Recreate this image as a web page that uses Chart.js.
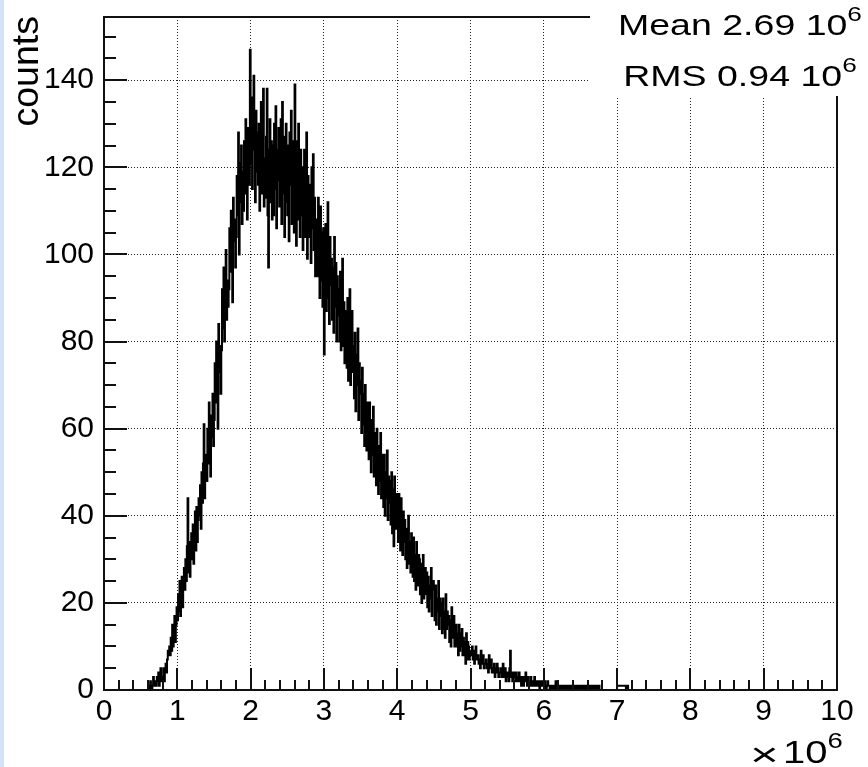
<!DOCTYPE html>
<html><head><meta charset="utf-8">
<script src="https://cdn.jsdelivr.net/npm/chart.js@4.4.1/dist/chart.umd.min.js"></script>
<style>
html,body{margin:0;padding:0;background:#fff;}
#wrap{position:relative;width:868px;height:767px;}
canvas{display:block;}
</style>
</head><body>
<div id="wrap"><canvas id="c" width="868" height="767"></canvas></div>
<script>
// ---- data (x in units of 10^6), one row per 0.1 interval, bin width 0.01 ----
const binStart = 0.60;
const binWidth = 0.01;
const counts = [
  0,1,0,2,1,0,1,3,1,2,            // 0.6
  2,1,3,2,4,1,2,5,3,2,            // 0.7
  3,5,2,4,6,4,7,9,8,10,           // 0.8
  8,12,9,15,10,13,17,11,15,19,    // 0.9
  16,22,18,25,17,23,26,19,25,28,  // 1.0
  23,30,25,33,44,27,34,26,31,36,  // 1.1
  30,38,29,37,41,32,42,34,39,44,  // 1.2
  40,47,37,50,43,52,61,44,54,48,  // 1.3
  48,60,52,66,55,49,63,58,68,56,  // 1.4
  62,75,66,80,70,60,84,73,79,68,  // 1.5
  78,92,83,97,80,89,101,85,94,88, // 1.6
  92,106,96,110,99,89,113,103,108,97,      // 1.7
  104,118,109,128,100,121,112,125,107,119, // 1.8
  110,126,114,131,118,108,129,121,116,147, // 1.9
  121,136,115,130,141,124,112,133,119,128, // 2.0
  116,130,110,127,135,114,125,138,111,122, // 2.1
  113,127,138,109,97,124,131,112,126,108,  // 2.2
  125,109,130,115,134,106,124,117,129,111, // 2.3
  118,131,107,135,114,127,104,122,130,112, // 2.4
  109,125,103,128,116,133,107,121,126,105, // 2.5
  139,110,102,126,108,130,115,104,124,109, // 2.6
  120,101,117,124,104,112,128,99,118,107,  // 2.7
  104,116,98,120,106,123,101,113,95,108,   // 2.8
  108,95,113,99,90,111,94,105,88,106,      // 2.9
  77,100,107,87,103,112,90,84,104,93,      // 3.0
  99,85,97,82,104,88,98,80,95,86,          // 3.1
  92,80,96,78,90,99,79,89,75,87,           // 3.2
  86,74,90,71,83,92,70,81,87,73,           // 3.3
  79,67,82,64,77,70,83,62,75,68,           // 3.4
  71,59,74,61,68,56,70,60,55,66,           // 3.5
  64,53,66,55,50,62,54,65,49,59,           // 3.6
  58,47,60,49,45,56,48,59,44,54,           // 3.7
  52,42,54,40,50,44,55,39,49,43,           // 3.8
  48,38,50,36,46,33,49,40,37,45,           // 3.9
  43,34,45,36,32,44,35,31,41,34,           // 4.0
  39,30,37,28,35,40,29,34,27,36,           // 4.1
  34,26,35,25,31,23,34,27,24,31,           // 4.2
  30,22,29,20,27,31,21,25,28,22,           // 4.3
  27,19,26,18,24,21,28,17,23,25,           // 4.4
  23,16,24,15,21,18,25,14,21,17,           // 4.5
  20,13,21,14,18,12,22,14,18,15,           // 4.6
  17,11,16,10,19,13,12,17,10,14,           // 4.7
  15,10,13,8,15,9,13,10,14,8,              // 4.8
  12,8,11,6,13,7,11,10,7,9,                // 4.9
  9,8,10,7,9,6,8,10,7,8,                   // 5.0
  8,6,7,5,9,6,7,8,5,6,                     // 5.1
  6,7,5,6,4,8,5,6,7,4,                     // 5.2
  5,4,6,3,5,4,6,5,3,4,                     // 5.3
  4,5,3,4,6,3,4,5,2,4,                     // 5.4
  3,4,2,5,9,3,4,2,3,4,                     // 5.5
  3,2,4,3,2,3,4,2,3,1,                     // 5.6
  2,3,1,3,2,4,2,1,3,2,                     // 5.7
  2,1,3,2,1,2,1,3,1,2,                     // 5.8
  1,2,1,2,0,1,2,1,1,2,                     // 5.9
  1,2,1,0,1,2,1,1,0,1,                     // 6.0
  1,0,1,1,0,1,2,0,1,1,                     // 6.1
  0,1,1,0,1,0,1,0,0,1,                     // 6.2
  1,0,1,0,1,1,0,1,0,0,                     // 6.3
  0,1,0,1,1,0,0,1,0,1,                     // 6.4
  1,0,0,1,0,1,0,0,1,0,                     // 6.5
  0,1,0,0,1,0,1,0,0,1,                     // 6.6
  0,0,1,0,0,1,0,0,0,0,                     // 6.7
  0,0,0,0,0,0,0,0,0,0,                     // 6.8
  0,0,0,0,0,0,0,0,0,0,                     // 6.9
  1,1,1,1,1,1,1,1,1,1,                     // 7.0
  1,1,0,1,1                                // 7.1
];
const xTickValues = [0,1,2,3,4,5,6,7,8,9,10];
const yTickValues = [0,20,40,60,80,100,120,140];
const xMinorStep = 0.2;
const yMinorStep = 5;
const yAxisTitle = "counts";
const xMultiplier = ["\u00d7", "10", "6"];
const statsLines = ["Mean 2.69 10", "RMS 0.94 10"];
const statsExponent = "6";

// ---- build stepped histogram points from bins ----
const points = [{x: 0, y: 0}];
counts.forEach((c, i) => points.push({x: binStart + i * binWidth, y: c}));
points.push({x: binStart + counts.length * binWidth, y: 0});
points.push({x: 10, y: 0});

const FONT = "'Liberation Sans', Arial, Helvetica, sans-serif";
const STRETCH = 1.25; // stats and multiplier text are horizontally widened in the original

function stretchedText(ctx, str, size, x, y, sx) {
  ctx.save();
  ctx.font = size + 'px ' + FONT;
  ctx.translate(x, y);
  ctx.scale(sx || STRETCH, 1);
  ctx.textAlign = 'left';
  ctx.textBaseline = 'alphabetic';
  ctx.fillText(str, 0, 0);
  ctx.restore();
}
function widthOf(ctx, str, size) {
  ctx.save(); ctx.font = size + 'px ' + FONT;
  const w = ctx.measureText(str).width * STRETCH;
  ctx.restore(); return w;
}

const decor = {
  id: 'decor',
  beforeDraw(chart) {
    const ctx = chart.ctx;
    ctx.save();
    ctx.fillStyle = '#fff';
    ctx.fillRect(0, 0, chart.width, chart.height);
    ctx.fillStyle = '#d3e3f5';
    ctx.fillRect(0, 0, 4, chart.height);
    ctx.restore();
  },
  afterDraw(chart) {
    const {ctx, chartArea: a, scales: {x, y}} = chart;
    ctx.save();
    ctx.strokeStyle = '#111';
    ctx.lineWidth = 2;
    ctx.beginPath();
    // y ticks (inside)
    for (let k = 0; k * yMinorStep <= y.max; k++) {
      const v = k * yMinorStep;
      const py = Math.round(y.getPixelForValue(v));
      const len = yTickValues.includes(v) ? 23 : 12;
      ctx.moveTo(a.left, py); ctx.lineTo(a.left + len, py);
    }
    // x ticks (inside)
    for (let k = 0; k * xMinorStep <= x.max + 1e-9; k++) {
      const v = Math.round(k * xMinorStep * 10) / 10;
      const px = Math.round(x.getPixelForValue(v));
      const len = xTickValues.includes(v) ? 22 : 10;
      ctx.moveTo(px, a.bottom); ctx.lineTo(px, a.bottom - len);
    }
    ctx.stroke();
    // frame
    ctx.beginPath();
    const L = Math.round(a.left), R = Math.round(a.right);
    const T = Math.round(a.top), B = Math.round(a.bottom);
    ctx.moveTo(L, T); ctx.lineTo(R, T); ctx.lineTo(R, B); ctx.lineTo(L, B); ctx.closePath();
    ctx.stroke();

    ctx.fillStyle = '#000';
    // y axis title (rotated, aligned to top of frame)
    ctx.save();
    ctx.translate(38, a.top - 1);
    ctx.rotate(-Math.PI / 2);
    ctx.font = '37.5px ' + FONT;
    ctx.textAlign = 'right';
    ctx.textBaseline = 'alphabetic';
    ctx.fillText(yAxisTitle, 0, 0);
    ctx.restore();

    // stats box (no border, covers frame corner)
    ctx.fillStyle = '#fff';
    ctx.fillRect(590, 0, chart.width - 590, 96);
    ctx.fillStyle = '#000';
    const cx = 740;
    const bases = [35, 86];
    statsLines.forEach((s, i) => {
      const w1 = widthOf(ctx, s, 30), w2 = widthOf(ctx, statsExponent, 21);
      const x0 = cx - (w1 + w2) / 2;
      stretchedText(ctx, s, 30, x0, bases[i]);
      stretchedText(ctx, statsExponent, 21, x0 + w1, bases[i] - 14);
    });

    // x multiplier label: "× 10^6"
    const w10 = widthOf(ctx, xMultiplier[1], 32);
    const x10 = 783;
    stretchedText(ctx, xMultiplier[0], 34, 750, 766, 1.45);
    stretchedText(ctx, xMultiplier[1], 32, x10, 763);
    stretchedText(ctx, xMultiplier[2], 22, x10 + w10, 748);
    ctx.restore();
  }
};

new Chart(document.getElementById('c'), {
  type: 'line',
  data: {
    datasets: [{
      data: points,
      stepped: true,
      borderColor: '#000',
      borderWidth: 2,
      pointRadius: 0,
      fill: false,
      tension: 0
    }]
  },
  options: {
    responsive: false,
    animation: false,
    events: [],
    layout: {padding: {top: 17, right: 31, left: 0, bottom: 0}},
    plugins: {legend: {display: false}, tooltip: {enabled: false}},
    scales: {
      x: {
        type: 'linear', min: 0, max: 10,
        afterBuildTicks: s => { s.ticks = xTickValues.map(v => ({value: v})); },
        afterFit: s => { s.height = 77; s.paddingLeft = 0; s.paddingRight = 0; },
        grid: {color: '#222', lineWidth: 1, drawTicks: false},
        border: {display: false, dash: [1, 2]},
        ticks: {font: {family: FONT, size: 30}, color: '#000', padding: 4, maxRotation: 0, autoSkip: false}
      },
      y: {
        type: 'linear', min: 0, max: 154.5,
        afterBuildTicks: s => { s.ticks = yTickValues.map(v => ({value: v})); },
        afterFit: s => { s.width = 104; s.paddingTop = 0; s.paddingBottom = 0; },
        grid: {color: '#222', lineWidth: 1, drawTicks: false},
        border: {display: false, dash: [1, 2]},
        ticks: {font: {family: FONT, size: 30}, color: '#000', padding: 10, autoSkip: false}
      }
    }
  },
  plugins: [decor]
});
</script>
</body></html>
